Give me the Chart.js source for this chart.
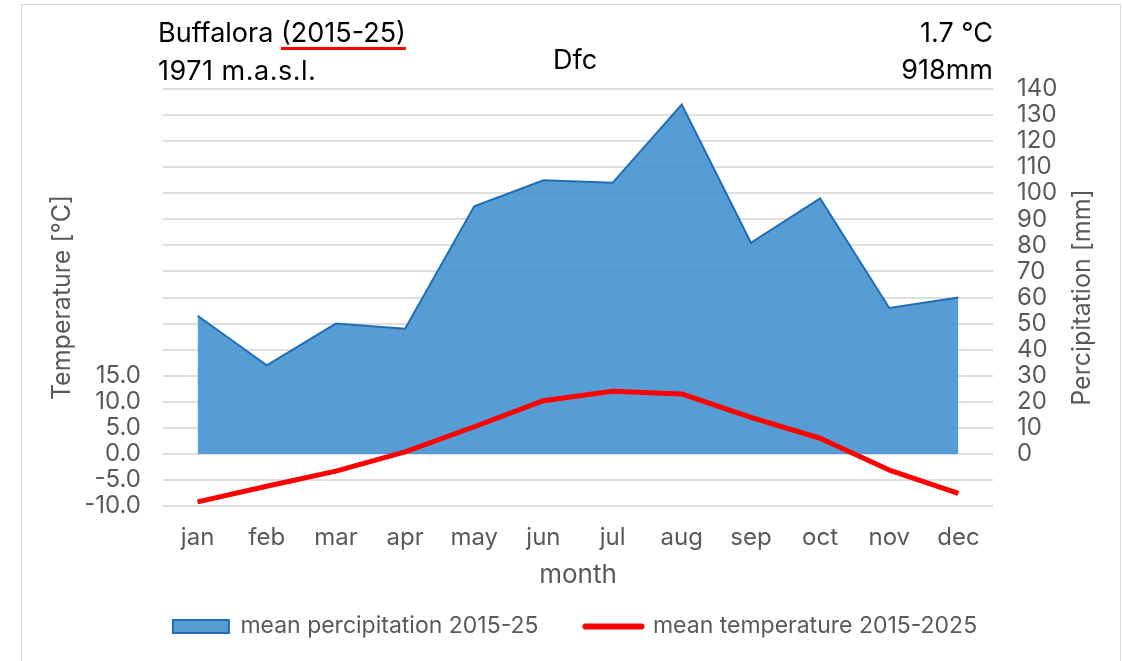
<!DOCTYPE html>
<html>
<head>
<meta charset="utf-8">
<script src="https://cdn.jsdelivr.net/npm/chart.js@4.4.1/dist/chart.umd.min.js"></script>
<style>
  body { margin: 0; background: #fff; font-family: Inter, "Liberation Sans", sans-serif; overflow: hidden; }
  #wrap { position: relative; width: 1123px; height: 661px; overflow: hidden; }
  #frame { position: absolute; left: 21px; top: 4px; width: 1100px; height: 700px; border: 1px solid #d9d9d9; box-sizing: border-box; }
  .hd { position: absolute; font-size: 27px; line-height: 30px; color: #000; white-space: nowrap; }
  .ul { text-decoration: underline; text-decoration-color: #ff0000; text-decoration-thickness: 3px; text-underline-offset: 5px; text-decoration-skip-ink: none; }
  canvas { position: absolute; left: 0; top: 0; }
</style>
</head>
<body>
<div id="wrap">
  <div id="frame"></div>
  <canvas id="myChart" width="1123" height="661"></canvas>
  <div class="hd" style="left:158px;top:18px;">Buffalora <span class="ul">(2015-25)</span></div>
  <div class="hd" style="left:158px;top:56px;letter-spacing:0.5px;">1971 m.a.s.l.</div>
  <div class="hd" style="left:525px;width:100px;text-align:center;top:45px;">Dfc</div>
  <div class="hd" style="right:130px;top:18px;">1.7 °C</div>
  <div class="hd" style="right:130px;top:55px;">918mm</div>
</div>
<script>
var months = ['jan', 'feb', 'mar', 'apr', 'may', 'jun', 'jul', 'aug', 'sep', 'oct', 'nov', 'dec'];
var precipitation = [53, 34, 50, 48, 95, 105, 104, 134, 81, 98, 56, 60];
var temperature = [-9.2, -6.2, -3.3, 0.4, 5.2, 10.2, 12.0, 11.5, 7.0, 3.0, -3.1, -7.6];
// axis ranges: 1 °C = 2 mm
var tempAxis = { min: -10, max: 70, step: 5, lastLabel: 15 };
var precAxis = { min: -20, max: 140, step: 10, firstLabel: 0 };

var grey = '#595959';
var fnt = 'Inter';

// right axis title reads bottom-to-top like the left one
var rightTitle = {
  id: 'rightTitle',
  afterDraw: function (chart) {
    var s = chart.scales.y1, ctx = chart.ctx;
    ctx.save();
    ctx.translate(s.right - 30, (s.top + s.bottom) / 2);
    ctx.rotate(-Math.PI / 2);
    ctx.font = '25px ' + fnt;
    ctx.fillStyle = grey;
    ctx.textAlign = 'center';
    ctx.textBaseline = 'middle';
    ctx.fillText('Percipitation [mm]', 0, 0);
    ctx.restore();
  }
};

var ctx = document.getElementById('myChart').getContext('2d');
var myChart = new Chart(ctx, {
  type: 'line',
  data: {
    labels: months,
    datasets: [{
      label: 'mean percipitation 2015-25',
      data: precipitation,
      yAxisID: 'y1',
      fill: 'origin',
      backgroundColor: 'rgba(68, 146, 208, 0.9)',
      borderColor: '#1f6db4',
      borderWidth: 2,
      pointRadius: 0,
      tension: 0,
      order: 2
    }, {
      label: 'mean temperature 2015-2025',
      data: temperature,
      yAxisID: 'y',
      borderColor: '#ff0000',
      borderWidth: 5,
      borderJoinStyle: 'round',
      pointRadius: 0,
      tension: 0,
      fill: false,
      order: 1
    }]
  },
  options: {
    responsive: false,
    animation: false,
    layout: { padding: { top: 89, left: 38, right: 11, bottom: 13 } },
    plugins: {
      tooltip: { enabled: false },
      legend: {
        position: 'bottom',
        labels: {
          usePointStyle: true,
          pointStyleWidth: 56,
          boxHeight: 13,
          padding: 47,
          color: grey,
          font: { family: fnt, size: 23 },
          generateLabels: function (chart) {
            return [{
              text: chart.data.datasets[0].label,
              fillStyle: 'rgba(68, 146, 208, 0.9)',
              strokeStyle: '#1f6db4',
              lineWidth: 2,
              pointStyle: 'rect',
              fontColor: grey,
              hidden: false,
              datasetIndex: 0
            }, {
              text: chart.data.datasets[1].label,
              fillStyle: '#ff0000',
              strokeStyle: '#ff0000',
              lineWidth: 6,
              lineCap: 'round',
              pointStyle: 'line',
              fontColor: grey,
              hidden: false,
              datasetIndex: 1
            }];
          }
        }
      }
    },
    scales: {
      x: {
        offset: true,
        grid: { display: false },
        border: { display: false },
        ticks: { color: grey, font: { family: fnt, size: 24 }, padding: 9, maxRotation: 0, autoSkip: false },
        title: { display: true, text: 'month', color: grey, font: { family: fnt, size: 26 }, padding: { top: 0, bottom: -23 } },
        afterFit: function (s) { s.height = 62; }
      },
      y: {
        position: 'left',
        min: tempAxis.min,
        max: tempAxis.max,
        grid: { color: '#dedede', lineWidth: 2, drawTicks: false },
        border: { display: false },
        ticks: {
          stepSize: tempAxis.step,
          autoSkip: false,
          padding: 22,
          color: grey,
          font: { family: fnt, size: 24 },
          callback: function (v) { return v <= tempAxis.lastLabel ? v.toFixed(1) : ''; }
        },
        title: { display: true, text: 'Temperature [°C]', color: grey, font: { family: fnt, size: 25 }, padding: { top: 9, bottom: 0 } },
        afterFit: function (s) { s.width = 125; }
      },
      y1: {
        position: 'right',
        min: precAxis.min,
        max: precAxis.max,
        grid: { display: false, drawTicks: false },
        border: { display: false },
        ticks: {
          stepSize: precAxis.step,
          autoSkip: false,
          padding: 24,
          color: grey,
          font: { family: fnt, size: 24 },
          callback: function (v) { return v >= precAxis.firstLabel ? v : ''; }
        },
        afterFit: function (s) { s.width = 119; }
      }
    }
  },
  plugins: [rightTitle]
});
</script>
</body>
</html>
